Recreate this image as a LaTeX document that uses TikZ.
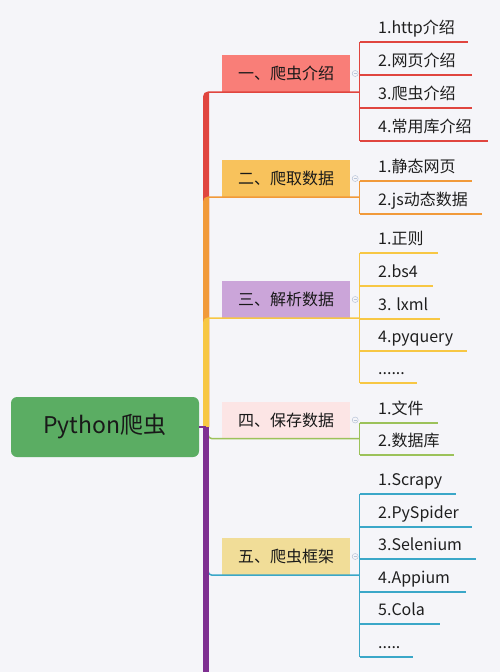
\documentclass[tikz,border=0pt]{standalone}
\usepackage{fontspec}
\setmainfont{Noto Sans CJK SC}
\definecolor{bgc}{HTML}{F5F5F9}
\definecolor{rootc}{HTML}{5BAD63}
\definecolor{b1c}{HTML}{F97E78}
\definecolor{b2c}{HTML}{F8C25C}
\definecolor{b3c}{HTML}{CBA5D9}
\definecolor{b4c}{HTML}{FCE5E5}
\definecolor{b5c}{HTML}{F1DD98}
\definecolor{c1}{HTML}{E0453F}
\definecolor{c2}{HTML}{F19A3A}
\definecolor{c3}{HTML}{F7C744}
\definecolor{c4}{HTML}{9CC25A}
\definecolor{c5}{HTML}{3AA7C8}
\definecolor{c6}{HTML}{7E2F91}
\definecolor{foldc}{HTML}{B8C4D8}
\newcommand\sixdots{......}
\newcommand\fivedots{.....}
\tikzset{
  root/.style={rounded corners=6pt, fill=rootc, minimum width=188pt, minimum height=60pt,
    text=black!90, font=\fontsize{23}{27}\selectfont},
  branch/.style={minimum width=128pt, minimum height=37pt, inner sep=0pt,
    text=black!90, font=\fontsize{16}{19}\selectfont},
  child/.style={anchor=base west, inner sep=0pt, text=black!88, font=\fontsize{16}{19}\selectfont},
  twig/.style={line width=1.5pt},
  fold/.style={circle, draw=foldc, fill=bgc, line width=0.5pt, minimum size=6pt, inner sep=0pt,
    path picture={\draw[foldc, line width=0.5pt] ([xshift=-1.5pt]path picture bounding box.center)
      -- ([xshift=1.5pt]path picture bounding box.center);}},
}
\begin{document}
\begin{tikzpicture}[x=1pt, y=-1pt]
\fill[bgc] (0,0) rectangle (500,672);
\useasboundingbox (0,0) rectangle (500,672);

\node[root] (root) at (105,427) {Python爬虫};
\coordinate (trunk) at (206,427);
\coordinate (bottom) at (206,674);
\coordinate (spine) at (359.5,0);

\node[branch, fill=b1c] (b1) at (286,73.5) {一、爬虫介绍};
\node[branch, fill=b2c] (b2) at (286,178.5) {二、爬取数据};
\node[branch, fill=b3c] (b3) at (286,299.5) {三、解析数据};
\node[branch, fill=b4c] (b4) at (286,420) {四、保存数据};
\node[branch, fill=b5c] (b5) at (286,556.5) {五、爬虫框架};

% trunk to the upper branches
\foreach \b/\c in {b1/c1, b2/c2, b3/c3}
  \fill[\c] ([xshift=-3pt]trunk) [rounded corners=5pt] -- ([xshift=-3pt,yshift=0.75pt]trunk |- \b.south)
    [sharp corners] -- ([yshift=0.75pt]spine |- \b.south) -- ([yshift=-0.75pt]spine |- \b.south)
    -- ([xshift=3pt,yshift=-0.75pt]trunk |- \b.south) -- ([xshift=3pt]trunk) -- cycle;
% lower branches
\draw[c4, twig, rounded corners=4pt] ([xshift=2pt]trunk) |- (spine |- b4.south);
\draw[c5, twig, rounded corners=4pt] ([xshift=2pt]trunk) |- (spine |- b5.south);
\draw[c6, line width=1.2pt] (root.east) -- (trunk);
\draw[c6, line width=6pt] (trunk) -- (bottom);

% sub topics
\foreach \t/\y/\e [count=\i] in {1.http介绍/42/468, 2.网页介绍/75/472, 3.爬虫介绍/108/472, 4.常用库介绍/141/488}{
  \coordinate (e1\i) at (\e,\y);
  \node[child] (k1\i) at (378,\y-9) {\t};
  \draw[c1, twig] (spine |- e1\i) -- (e1\i);
}
\draw[c1, twig] (spine |- e11) -- (spine |- e14);

\foreach \t/\y/\e [count=\i] in {1.静态网页/181/472, 2.js动态数据/214/482}{
  \coordinate (e2\i) at (\e,\y);
  \node[child] (k2\i) at (378,\y-9) {\t};
  \draw[c2, twig] (spine |- e2\i) -- (e2\i);
}
\draw[c2, twig] (spine |- e21) -- (spine |- e22);

\foreach \t/\y/\e [count=\i] in {1.正则/253/438, 2.bs4/286/433, 3. lxml/319/440, 4.pyquery/351/467, \sixdots/383/417}{
  \coordinate (e3\i) at (\e,\y);
  \node[child] (k3\i) at (378,\y-9) {\t};
  \draw[c3, twig] (spine |- e3\i) -- (e3\i);
}
\draw[c3, twig] (spine |- e31) -- (spine |- e35);

\foreach \t/\y/\e [count=\i] in {1.文件/423/438, 2.数据库/455/454}{
  \coordinate (e4\i) at (\e,\y);
  \node[child] (k4\i) at (378,\y-9) {\t};
  \draw[c4, twig] (spine |- e4\i) -- (e4\i);
}
\draw[c4, twig] (spine |- e41) -- (spine |- e42);

\foreach \t/\y/\e [count=\i] in {1.Scrapy/494/456, 2.PySpider/527/472, 3.Selenium/559/476, 4.Appium/592/466, 5.Cola/624/440, \fivedots/657/413}{
  \coordinate (e5\i) at (\e,\y);
  \node[child] (k5\i) at (378,\y-9) {\t};
  \draw[c5, twig] (spine |- e5\i) -- (e5\i);
}
\draw[c5, twig] (spine |- e51) -- (spine |- e56);

% fold markers
\foreach \b in {b1,b2,b3,b4,b5}
  \node[fold] (f\b) at ([xshift=5pt]\b.east) {};
\end{tikzpicture}
\end{document}
